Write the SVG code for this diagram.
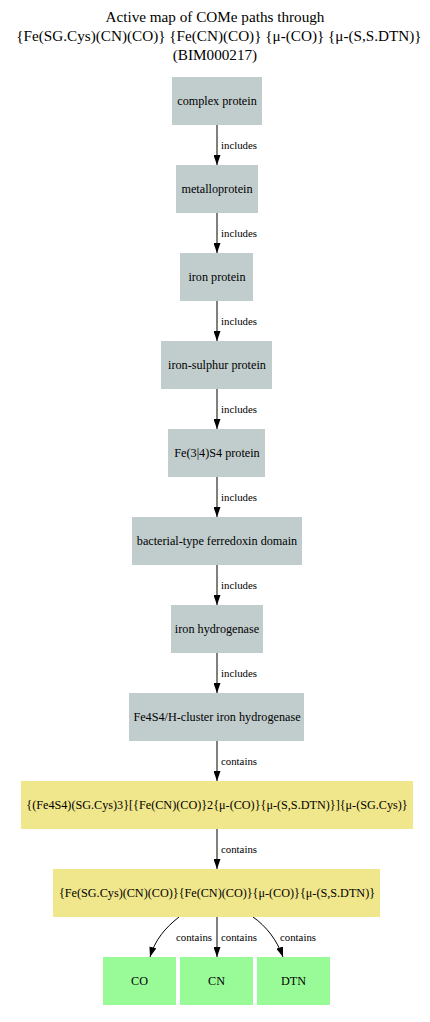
<svg xmlns="http://www.w3.org/2000/svg" width="430" height="1022" viewBox="0 0 430 1022">
<style>
text{font-family:"Liberation Serif","DejaVu Serif",serif;fill:#000}
.t{font-size:15.2px;text-anchor:middle}
.n{font-size:12.2px;text-anchor:middle}
.l{font-size:10.8px}
.g{fill:#c1cdcd}
.y{fill:#f0e68c}
.p{fill:#98fb98}
.e{stroke:#000;stroke-width:1;fill:none}
</style>
<defs>
<marker id="a" markerWidth="10" markerHeight="7" refX="10" refY="3.5" orient="auto" markerUnits="userSpaceOnUse">
<path d="M0,0 L10,3.5 L0,7 Z" fill="#000"/>
</marker>
</defs>
<rect width="430" height="1022" fill="#fff"/>
<g id="title">
<text class="t" x="215" y="22">Active map of COMe paths through</text>
<text class="t" x="219" y="41">{Fe(SG.Cys)(CN)(CO)} {Fe(CN)(CO)} {μ-(CO)} {μ-(S,S.DTN)}</text>
<text class="t" x="215" y="60">(BIM000217)</text>
</g>
<g id="edges">
<path class="e" d="M217,125 L217,165" marker-end="url(#a)"/>
<text class="l" x="221" y="149">includes</text>
<path class="e" d="M217,213 L217,253" marker-end="url(#a)"/>
<text class="l" x="221" y="237">includes</text>
<path class="e" d="M217,301 L217,341" marker-end="url(#a)"/>
<text class="l" x="221" y="325">includes</text>
<path class="e" d="M217,389 L217,429" marker-end="url(#a)"/>
<text class="l" x="221" y="413">includes</text>
<path class="e" d="M217,477 L217,517" marker-end="url(#a)"/>
<text class="l" x="221" y="501">includes</text>
<path class="e" d="M217,565 L217,605" marker-end="url(#a)"/>
<text class="l" x="221" y="589">includes</text>
<path class="e" d="M217,653 L217,693" marker-end="url(#a)"/>
<text class="l" x="221" y="677">includes</text>
<path class="e" d="M217,741 L217,781" marker-end="url(#a)"/>
<text class="l" x="221" y="765">contains</text>
<path class="e" d="M217,829 L217,869" marker-end="url(#a)"/>
<text class="l" x="221" y="853">contains</text>
<path class="e" d="M179,917 C165,928 155,940 150,957" marker-end="url(#a)"/>
<text class="l" x="176" y="941">contains</text>
<path class="e" d="M217,917 L217,957" marker-end="url(#a)"/>
<text class="l" x="221" y="941">contains</text>
<path class="e" d="M253,917 C266,926 277,940 283,957" marker-end="url(#a)"/>
<text class="l" x="280" y="941">contains</text>
</g>
<g id="n1"><rect class="g" x="172" y="77" width="90" height="48"/><text class="n" x="217" y="105">complex protein</text></g>
<g id="n2"><rect class="g" x="176" y="165" width="82" height="48"/><text class="n" x="217" y="193">metalloprotein</text></g>
<g id="n3"><rect class="g" x="180" y="253" width="73" height="48"/><text class="n" x="217" y="281">iron protein</text></g>
<g id="n4"><rect class="g" x="161" y="341" width="111" height="48"/><text class="n" x="217" y="369">iron-sulphur protein</text></g>
<g id="n5"><rect class="g" x="168" y="429" width="97" height="48"/><text class="n" x="217" y="457">Fe(3|4)S4 protein</text></g>
<g id="n6"><rect class="g" x="132" y="517" width="170" height="48"/><text class="n" x="217" y="545">bacterial-type ferredoxin domain</text></g>
<g id="n7"><rect class="g" x="171" y="605" width="92" height="48"/><text class="n" x="217" y="633">iron hydrogenase</text></g>
<g id="n8"><rect class="g" x="129" y="693" width="175" height="48"/><text class="n" x="217" y="721">Fe4S4/H-cluster iron hydrogenase</text></g>
<g id="n9"><rect class="y" x="21" y="781" width="392" height="48"/><text class="n" x="217" y="809">{(Fe4S4)(SG.Cys)3}[{Fe(CN)(CO)}2{μ-(CO)}{μ-(S,S.DTN)}]{μ-(SG.Cys)}</text></g>
<g id="n10"><rect class="y" x="53" y="869" width="327" height="48"/><text class="n" x="217" y="897">{Fe(SG.Cys)(CN)(CO)}{Fe(CN)(CO)}{μ-(CO)}{μ-(S,S.DTN)}</text></g>
<g id="n11"><rect class="p" x="103" y="957" width="73" height="48"/><text class="n" x="139.5" y="985">CO</text></g>
<g id="n12"><rect class="p" x="180" y="957" width="73" height="48"/><text class="n" x="216.5" y="985">CN</text></g>
<g id="n13"><rect class="p" x="257" y="957" width="73" height="48"/><text class="n" x="293.5" y="985">DTN</text></g>
</svg>
